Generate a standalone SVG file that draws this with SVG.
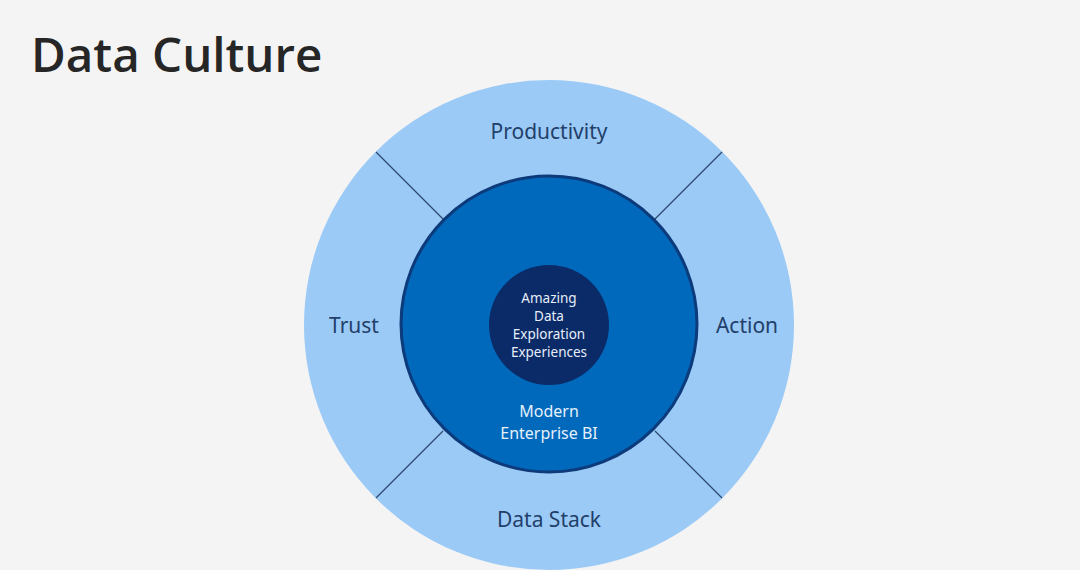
<svg xmlns="http://www.w3.org/2000/svg" width="1080" height="570" viewBox="0 0 1080 570">
<style>
.ring{font-family:"Noto Sans","Open Sans",sans-serif;font-size:21px;fill:#22406a;text-anchor:middle}
.core{font-family:"Noto Sans","Open Sans",sans-serif;font-size:13.5px;fill:#e6eefa;text-anchor:middle}
.mid{font-family:"Noto Sans","Open Sans",sans-serif;font-size:16px;fill:#e6f0fb;text-anchor:middle}
.div{stroke:#2d4a73;stroke-width:1.2}
</style>
<rect width="1080" height="570" fill="#f4f4f5"/>
<text x="31" y="72" font-family="Open Sans,sans-serif" font-weight="600" font-size="47.5" fill="#262626">Data Culture</text>
<g id="outer">
<circle cx="549" cy="325" r="245" fill="#9bcaf6"/>
<text class="ring" x="549" y="139">Productivity</text>
<text class="ring" x="354" y="333">Trust</text>
<text class="ring" x="747" y="333">Action</text>
<text class="ring" x="549" y="527">Data Stack</text>
</g>
<g id="connectors">
<line class="div" x1="376" y1="152" x2="443" y2="219"/>
<line class="div" x1="722" y1="152" x2="655" y2="219"/>
<line class="div" x1="376" y1="498" x2="443" y2="431"/>
<line class="div" x1="722" y1="498" x2="655" y2="431"/>
</g>
<g id="middle">
<circle cx="549" cy="324" r="148" fill="#0069bb" stroke="#0c3a7a" stroke-width="3"/>
<text class="mid" x="549" y="417">Modern</text>
<text class="mid" x="549" y="439">Enterprise BI</text>
</g>
<g id="core">
<circle cx="549" cy="325" r="60" fill="#0b2b68"/>
<text class="core" x="549" y="303">Amazing</text>
<text class="core" x="549" y="321">Data</text>
<text class="core" x="549" y="339">Exploration</text>
<text class="core" x="549" y="357">Experiences</text>
</g>
</svg>
